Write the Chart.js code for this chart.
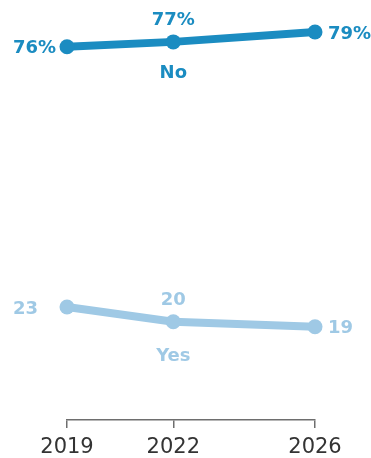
<!DOCTYPE html>
<html>
<head>
<meta charset="utf-8">
<script src="https://cdn.jsdelivr.net/npm/chart.js@4"></script>
<style>
  html, body { margin: 0; padding: 0; background: #fff; }
  #wrap { width: 371px; height: 458px; }
</style>
</head>
<body>
<div id="wrap"><canvas id="myChart" width="371" height="458"></canvas></div>
<script>
var years = [2019, 2022, 2026];
var noValues = [76, 77, 79];
var yesValues = [23, 20, 19];
var seriesNames = ["No", "Yes"];

var darkBlue = "#1b8cc1";
var lightBlue = "#9fc9e5";

function toPoints(vals) {
  return vals.map(function (v, i) { return { x: years[i], y: v }; });
}

// value labels beside each point, series name under the middle point
var pointLabels = {
  id: "pointLabels",
  afterDatasetsDraw: function (chart) {
    var ctx = chart.ctx;
    ctx.save();
    ctx.font = "bold 18px 'DejaVu Sans'";
    ctx.textBaseline = "alphabetic";
    var pctW = ctx.measureText("%").width;
    chart.data.datasets.forEach(function (ds, d) {
      var meta = chart.getDatasetMeta(d);
      ctx.fillStyle = ds.borderColor;
      meta.data.forEach(function (pt, i) {
        var v = ds.data[i].y;
        var txt = d === 0 ? v + "%" : String(v);
        if (i === 0) {
          ctx.textAlign = "right";
          ctx.fillText(txt, pt.x - 11 - (d === 0 ? 0 : pctW), pt.y + 6.5);
        } else if (i === meta.data.length - 1) {
          ctx.textAlign = "left";
          ctx.fillText(txt, pt.x + 13, pt.y + 6.5);
        } else {
          ctx.textAlign = "center";
          ctx.fillText(txt, pt.x, pt.y - 16.7);
          ctx.fillText(seriesNames[d], pt.x, pt.y + (d === 0 ? 36.6 : 39));
        }
      });
    });
    ctx.restore();
  }
};

new Chart("myChart", {
  type: "line",
  data: {
    datasets: [{
      label: seriesNames[0],
      data: toPoints(noValues),
      borderColor: darkBlue,
      backgroundColor: darkBlue,
      borderWidth: 8,
      pointRadius: 7.5,
      pointBorderWidth: 0,
      clip: false
    }, {
      label: seriesNames[1],
      data: toPoints(yesValues),
      borderColor: lightBlue,
      backgroundColor: lightBlue,
      borderWidth: 8,
      pointRadius: 7.5,
      pointBorderWidth: 0,
      clip: false
    }]
  },
  options: {
    responsive: false,
    animation: false,
    layout: { padding: { left: 67, right: 56, top: 2, bottom: 0 } },
    plugins: {
      legend: { display: false },
      tooltip: { enabled: false }
    },
    scales: {
      x: {
        type: "linear",
        min: 2019,
        max: 2026,
        afterBuildTicks: function (scale) {
          scale.ticks = years.map(function (y) { return { value: y }; });
        },
        afterFit: function (scale) { scale.height = 38; },
        grid: {
          drawOnChartArea: false,
          drawTicks: true,
          tickLength: 8,
          color: "#6e6e6e",
          lineWidth: 1.5
        },
        border: { display: true, color: "#6e6e6e", width: 1.5 },
        ticks: {
          autoSkip: false,
          maxRotation: 0,
          padding: 7,
          color: "#333",
          font: { family: "DejaVu Sans", size: 21 },
          callback: function (v) { return String(v); }
        }
      },
      y: {
        display: false,
        min: 0,
        max: 84
      }
    }
  },
  plugins: [pointLabels]
});
</script>
</body>
</html>
